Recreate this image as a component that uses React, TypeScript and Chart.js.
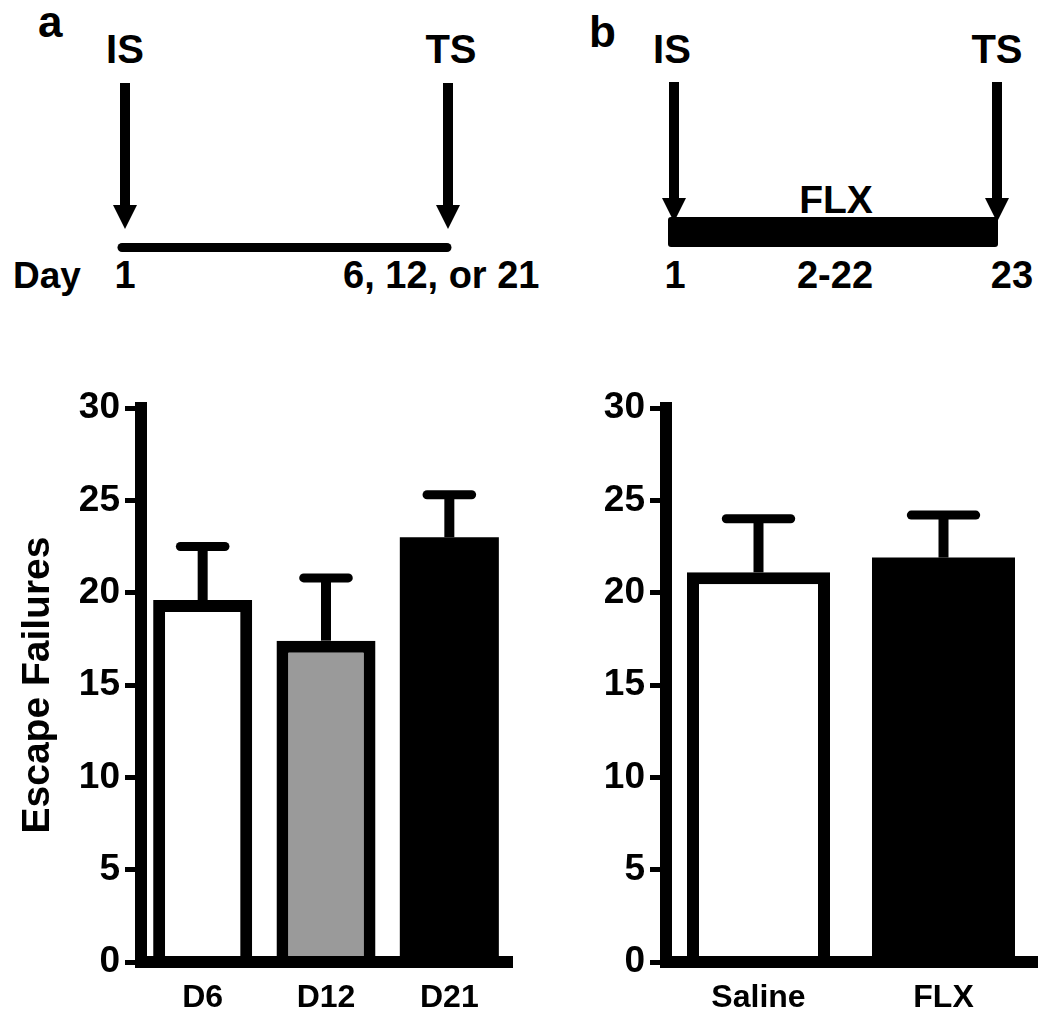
import React, { useEffect, useRef } from 'react';
import { Chart, registerables } from 'chart.js';

Chart.register(...registerables);

// ---- data ----
const leftCategories = ['D6', 'D12', 'D21'];
const leftMeans = [19.6, 17.4, 23.0];
const leftErrors = [2.9, 3.4, 2.3];
const leftColors = ['#ffffff', '#9a9a9a', '#000000'];

const rightCategories = ['Saline', 'FLX'];
const rightMeans = [21.1, 21.9];
const rightErrors = [2.9, 2.3];
const rightColors = ['#ffffff', '#000000'];

const yMin = 0;
const yMax = 30;
const yStep = 5;
const yTitle = 'Escape Failures';

// timeline diagram texts
const panelALetter = 'a';
const panelBLetter = 'b';
const stressLabels = ['IS', 'TS'];
const panelADays = ['Day', '1', '6, 12, or 21'];
const panelBDays = ['1', '2-22', '23'];
const panelBDrug = 'FLX';

const TICK_FONT = '"Liberation Sans Narrow", "Liberation Sans", Arial, sans-serif';
const TEXT_FONT = '"Liberation Sans", Arial, sans-serif';

function makeErrorPlugin(errors: number[]) {
  return {
    id: 'errbars',
    afterDatasetsDraw(chart: any) {
      const meta = chart.getDatasetMeta(0);
      const ys = chart.scales.y;
      const ctx = chart.ctx;
      const data = chart.data.datasets[0].data as number[];
      ctx.save();
      ctx.strokeStyle = '#000';
      meta.data.forEach((bar: any, i: number) => {
        const { x, width } = bar.getProps(['x', 'width'], true);
        const y0 = ys.getPixelForValue(data[i]);
        const y1 = ys.getPixelForValue(data[i] + errors[i]);
        const half = width * 0.225;
        ctx.lineWidth = 10;
        ctx.lineCap = 'butt';
        ctx.beginPath();
        ctx.moveTo(x, y0);
        ctx.lineTo(x, y1);
        ctx.stroke();
        ctx.lineWidth = 9;
        ctx.lineCap = 'round';
        ctx.beginPath();
        ctx.moveTo(x - half, y1);
        ctx.lineTo(x + half, y1);
        ctx.stroke();
      });
      ctx.restore();
    },
  };
}

function BarPanel(props: {
  categories: string[];
  means: number[];
  errors: number[];
  colors: string[];
  barPct: number;
  showTitle: boolean;
}) {
  const ref = useRef<HTMLCanvasElement | null>(null);
  useEffect(() => {
    const chart = new Chart(ref.current as HTMLCanvasElement, {
      type: 'bar',
      data: {
        labels: props.categories,
        datasets: [
          {
            data: props.means,
            backgroundColor: props.colors,
            borderColor: '#000',
            borderWidth: props.colors.map((c) => (c === '#000000' ? 0 : 12)),
            borderSkipped: 'start',
            barPercentage: props.barPct,
            categoryPercentage: 1,
          },
        ],
      },
      options: {
        animation: false,
        responsive: false,
        devicePixelRatio: 1,
        layout: { padding: { left: 0, right: 14, top: 48, bottom: 0 } },
        plugins: { legend: { display: false }, tooltip: { enabled: false } },
        scales: {
          x: {
            grid: { display: false, drawTicks: false, lineWidth: 4 },
            border: { display: true, color: '#000', width: 12, z: 1 },
            ticks: {
              color: '#000',
              padding: 17,
              font: { family: TEXT_FONT, size: 32, weight: 'bold' },
            },
            afterFit: (s: any) => {
              s.height = 60;
            },
          },
          y: {
            min: yMin,
            max: yMax,
            ticks: {
              stepSize: yStep,
              color: '#000',
              padding: 5,
              font: { family: TICK_FONT, size: 37, weight: 'bold' },
            },
            grid: {
              display: true,
              drawOnChartArea: false,
              drawTicks: true,
              tickLength: 16,
              tickWidth: 5,
              tickColor: '#000',
              color: '#000',
            },
            border: { display: true, color: '#000', width: 12 },
            title: {
              display: props.showTitle,
              text: yTitle,
              color: '#000',
              padding: { top: 15, bottom: 0 },
              font: { family: TEXT_FONT, size: 39, weight: 'bold' },
            },
            afterFit: (s: any) => {
              s.width = 141;
            },
          },
        },
      } as any,
      plugins: [makeErrorPlugin(props.errors)],
    });
    return () => chart.destroy();
  }, []);
  return (
    <canvas
      ref={ref}
      width={525}
      height={662}
      style={{ width: 525, height: 662, display: 'block' }}
    />
  );
}

function Arrow({ x, y1, y2 }: { x: number; y1: number; y2: number }) {
  return (
    <g>
      <line x1={x} x2={x} y1={y1} y2={y2 - 18} stroke="#000" strokeWidth={10} />
      <polygon points={`${x - 12},${y2 - 24} ${x + 12},${y2 - 24} ${x},${y2}`} fill="#000" />
    </g>
  );
}

function Diagram() {
  const t = { fontFamily: TEXT_FONT, fontWeight: 'bold' as const, fill: '#000' };
  return (
    <svg width={1050} height={360} style={{ position: 'absolute', left: 0, top: 0 }}>
      {/* panel a */}
      <text x={38} y={37} fontSize={44} {...t}>{panelALetter}</text>
      <text x={125} y={63} fontSize={40} textAnchor="middle" {...t}>{stressLabels[0]}</text>
      <text x={451} y={63} fontSize={40} textAnchor="middle" {...t}>{stressLabels[1]}</text>
      <Arrow x={125} y1={83} y2={229} />
      <Arrow x={448} y1={83} y2={229} />
      <line x1={122} x2={447} y1={247.5} y2={247.5} stroke="#000" strokeWidth={9} strokeLinecap="round" />
      <text x={13} y={288} fontSize={37} {...t}>{panelADays[0]}</text>
      <text x={125} y={288} fontSize={38} textAnchor="middle" {...t}>{panelADays[1]}</text>
      <text x={343} y={288} fontSize={38} {...t}>{panelADays[2]}</text>

      {/* panel b */}
      <text x={589} y={47} fontSize={44} {...t}>{panelBLetter}</text>
      <text x={672} y={63} fontSize={40} textAnchor="middle" {...t}>{stressLabels[0]}</text>
      <text x={997} y={63} fontSize={40} textAnchor="middle" {...t}>{stressLabels[1]}</text>
      <Arrow x={674} y1={82} y2={222} />
      <Arrow x={997} y1={82} y2={222} />
      <rect x={668} y={217} width={330} height={30} rx={3} fill="#000" />
      <text x={836} y={213} fontSize={39} textAnchor="middle" {...t}>{panelBDrug}</text>
      <text x={675} y={288} fontSize={38} textAnchor="middle" {...t}>{panelBDays[0]}</text>
      <text x={835} y={288} fontSize={38} textAnchor="middle" {...t}>{panelBDays[1]}</text>
      <text x={1012} y={288} fontSize={38} textAnchor="middle" {...t}>{panelBDays[2]}</text>
    </svg>
  );
}

export default function App() {
  return (
    <div
      style={{
        position: 'absolute',
        left: 0,
        top: 0,
        width: 1050,
        height: 1022,
        background: '#fff',
        overflow: 'hidden',
      }}
    >
      <Diagram />
      <div style={{ position: 'absolute', left: 0, top: 360 }}>
        <BarPanel
          categories={leftCategories}
          means={leftMeans}
          errors={leftErrors}
          colors={leftColors}
          barPct={0.803}
          showTitle={true}
        />
      </div>
      <div style={{ position: 'absolute', left: 525, top: 360 }}>
        <BarPanel
          categories={rightCategories}
          means={rightMeans}
          errors={rightErrors}
          colors={rightColors}
          barPct={0.773}
          showTitle={false}
        />
      </div>
    </div>
  );
}
